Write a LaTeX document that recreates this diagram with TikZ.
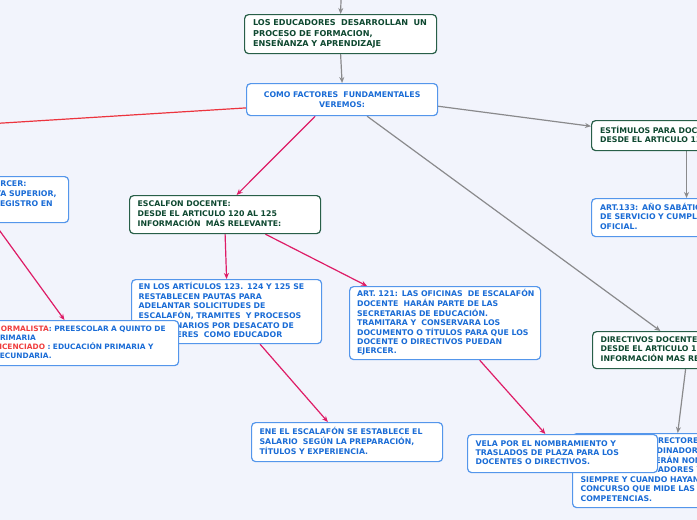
\documentclass[tikz,border=0pt]{standalone}
\usepackage{fontspec}
\setmainfont{DejaVu Sans}
\usetikzlibrary{arrows.meta,calc}
\definecolor{bgc}{RGB}{242,244,252}
\definecolor{gborder}{RGB}{40,95,72}
\definecolor{gtext}{RGB}{14,72,48}
\definecolor{bborder}{RGB}{84,150,235}
\definecolor{btext}{RGB}{26,108,214}
\definecolor{magc}{RGB}{222,28,102}
\definecolor{grayc}{RGB}{138,138,140}
\definecolor{redc}{RGB}{236,52,62}
\definecolor{redt}{RGB}{240,62,62}
\newcommand\myrows[1]{\begin{tabular}{@{}l@{}}#1\end{tabular}}
\pgfdeclarelayer{bg}
\pgfdeclarelayer{edges}
\pgfsetlayers{bg,edges,main}
\tikzset{
  box/.style={draw, fill=white, rounded corners=4pt, line width=1.2pt, anchor=north west,
    align=left, inner xsep=8pt, inner ysep=2pt,
    font=\fontsize{7.8}{9.4}\selectfont\bfseries},
  gbox/.style={box, draw=gborder, text=gtext},
  bbox/.style={box, draw=bborder, text=btext},
  garrow/.style={draw=grayc, line width=1.2pt, -{Stealth[length=6pt,width=5pt]}},
  marrow/.style={draw=magc, line width=1.2pt, -{Stealth[length=6pt,width=5pt]}},
  rline/.style={draw=redc, line width=1.2pt},
}
\begin{document}
\begin{tikzpicture}[x=1pt,y=-1pt]
\begin{pgfonlayer}{bg}
\fill[bgc] (0,0) rectangle (697,520);
\end{pgfonlayer}
\useasboundingbox (0,0) rectangle (697,520);

\node[gbox, text width=175pt, minimum height=39pt, inner xsep=8.5pt, font=\fontsize{8.1}{10.6}\selectfont\bfseries] (b1) at (244,14)
  {\myrows{LOS EDUCADORES\ \ DESARROLLAN\ \ UN\\PROCESO DE FORMACION,\\ENSEÑANZA Y APRENDIZAJE}};
\node[bbox, align=center, text width=175pt, minimum height=32pt] (b2) at (246,83)
  {COMO FACTORES\ \ FUNDAMENTALES\\VEREMOS:};
\node[bbox, text width=175pt, minimum height=46pt] (lbox) at (-123,176)
  {\myrows{LOS REQUISITOS PARA EJERCER:\\UN TÍTULO DE NORMALISTA SUPERIOR,\\LICENCIATURA Y CON EL REGISTRO EN\\ESCALAFÓN.}};
\node[gbox, text width=175pt, minimum height=38pt] (b4) at (129,195)
  {\myrows{ESCALFON DOCENTE:\\DESDE EL ARTICULO 120 AL 125\\INFORMACIÓN\ \ MÁS RELEVANTE:}};
\node[bbox, text width=176pt, minimum height=64pt, inner xsep=7pt] (b5) at (131,279)
  {\myrows{EN LOS ARTÍCULOS 123. 124 Y 125 SE\\RESTABLECEN PAUTAS PARA\\ADELANTAR SOLICITUDES DE\\ESCALAFÓN, TRAMITES\ \ Y PROCESOS\\DISCIPLINARIOS POR DESACATO DE\\SUS DEBERES\ \ COMO EDUCADOR}};
\node[bbox, text width=178pt, minimum height=45pt, inner xsep=6pt, font=\fontsize{7.4}{9}\selectfont\bfseries] (b6) at (-12,320)
  {\myrows{\textcolor{redt}{NORMALISTA}: PREESCOLAR A QUINTO DE\\PRIMARIA\\\textcolor{redt}{LICENCIADO} : EDUCACIÓN PRIMARIA Y\\SECUNDARIA.}};
\node[bbox, text width=176pt, minimum height=73pt, inner xsep=7.5pt, font=\fontsize{7.8}{9.1}\selectfont\bfseries] (b7) at (349,286)
  {\myrows{ART. 121: LAS OFICINAS\ \ DE ESCALAFÓN\\DOCENTE\ \ HARÁN PARTE DE LAS\\SECRETARIAS DE EDUCACIÓN.\\TRAMITARA Y\ \ CONSERVARA LOS\\DOCUMENTO O TÍTULOS PARA QUE LOS\\DOCENTE O DIRECTIVOS PUEDAN\\EJERCER.}};
\node[bbox, text width=175pt, minimum height=39pt] (b8) at (251,422)
  {\myrows{ENE EL ESCALAFÓN SE ESTABLECE EL\\SALARIO\ \ SEGÚN LA PREPARACIÓN,\\TÍTULOS Y EXPERIENCIA.}};
\node[bbox, text width=175pt, minimum height=74pt, font=\fontsize{7.8}{9.5}\selectfont\bfseries] (b10) at (572,433)
  {\myrows{RECTORES, VICERRECTORES\\RURALES Y COORDINADORES\\LOS DOCENTES SERÁN NOMBRADOS\\POR LOS GOBERNADORES Y\\SIEMPRE Y CUANDO HAYAN\\CONCURSO QUE MIDE LAS\\COMPETENCIAS.}};
\node[bbox, text width=174pt, minimum height=38pt] (b9) at (467,434)
  {\myrows{VELA POR EL NOMBRAMIENTO Y\\TRASLADOS DE PLAZA PARA LOS\\DOCENTES O DIRECTIVOS.}};
\node[gbox, text width=174pt, minimum height=30pt, inner xsep=8.5pt] (b11) at (591,120)
  {\myrows{ESTÍMULOS PARA DOCENTES\\DESDE EL ARTICULO 133 AL 136}};
\node[bbox, text width=174pt, minimum height=38pt, inner xsep=8.5pt] (b12) at (591,198)
  {\myrows{ART.133: AÑO SABÁTICO POR AÑOS\\DE SERVICIO Y CUMPLIMIENTO\\OFICIAL.}};
\node[gbox, text width=175pt, minimum height=37pt] (b13) at (592,331)
  {\myrows{DIRECTIVOS DOCENTES:\\DESDE EL ARTICULO 126 AL 132\\INFORMACIÓN MAS RELEVANTE:}};

\coordinate (top) at (341,0);
\coordinate (leftend) at (-5,123.5);

\begin{pgfonlayer}{edges}
\draw[garrow] (top) -- (b1.north);
\draw[garrow] (b1.south) -- (b2.north);
\draw[rline] ($(b2.south west)!0.25!(b2.north west)$) -- (leftend);
\draw[marrow] ($(b2.south west)!0.36!(b2.south east)$) -- ($(b4.north west)!0.56!(b4.north east)$);
\draw[garrow] ($(b2.south west)!0.63!(b2.south east)$) -- ($(b13.north west)!0.356!(b13.north east)$);
\draw[garrow] ($(b2.south east)!0.3!(b2.north east)$) -- ($(b11.north west)!0.2!(b11.south west)$);
\draw[garrow] ($(b11.south west)!0.497!(b11.south east)$) -- ($(b12.north west)!0.497!(b12.north east)$);
\draw[garrow] ($(b13.south west)!0.487!(b13.south east)$) -- ($(b10.north west)!0.55!(b10.north east)$);
\draw[marrow] (b4.south) -- (b5.north);
\draw[marrow] ($(b4.south west)!0.71!(b4.south east)$) -- ($(b7.north west)!0.094!(b7.north east)$);
\draw[marrow] ($(b5.south west)!0.675!(b5.south east)$) -- ($(b8.north west)!0.4!(b8.north east)$);
\draw[marrow] ($(b7.south west)!0.68!(b7.south east)$) -- ($(b9.north west)!0.41!(b9.north east)$);
\draw[marrow] ($(lbox.south west)!0.61!(lbox.south east)$) -- ($(b6.north west)!0.4!(b6.north east)$);
\end{pgfonlayer}
\end{tikzpicture}
\end{document}
